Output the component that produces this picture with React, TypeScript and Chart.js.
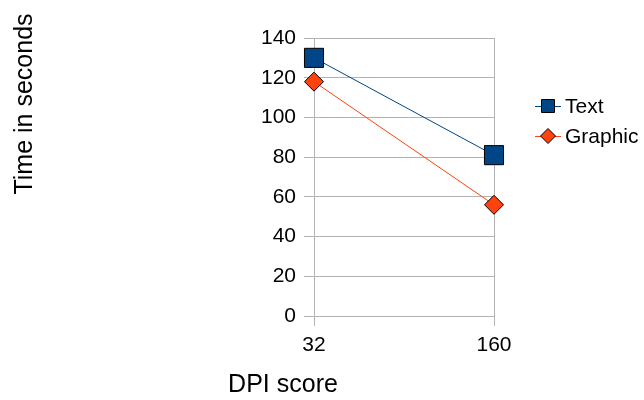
import React, { useEffect, useRef } from "react";
import { Chart, registerables } from "chart.js";

Chart.register(...registerables);

const categories = ["32", "160"];
const textValues = [130, 81];
const graphicValues = [118, 56];
const yTicks = [0, 20, 40, 60, 80, 100, 120, 140];
const seriesNames = ["Text", "Graphic"];
const yTitle = "Time in seconds";
const xTitle = "DPI score";

const FONT = "'Liberation Sans', Arial, sans-serif";
const GRID = "#b3b3b3";
const TICK_SIZE = 21;

const extrasPlugin = {
  id: "extras",
  afterDraw(chart: any) {
    const ctx = chart.ctx;
    ctx.save();
    ctx.fillStyle = "#000";
    ctx.font = `25px ${FONT}`;
    // axis titles
    ctx.textAlign = "center";
    ctx.textBaseline = "middle";
    ctx.fillText(xTitle, 283, 385);
    ctx.save();
    ctx.translate(25, 104);
    ctx.rotate(-Math.PI / 2);
    ctx.fillText(yTitle, 0, 0);
    ctx.restore();
    // legend
    ctx.font = `${TICK_SIZE}px ${FONT}`;
    const ds = chart.data.datasets;
    const lx = 548;
    const ys = [106, 136];
    ds.forEach((d: any, i: number) => {
      const y = ys[i];
      ctx.strokeStyle = d.borderColor;
      ctx.lineWidth = 1;
      ctx.beginPath();
      ctx.moveTo(lx - 13, y + 0.5);
      ctx.lineTo(lx + 13, y + 0.5);
      ctx.stroke();
      ctx.fillStyle = d.backgroundColor;
      ctx.strokeStyle = "#000";
      ctx.beginPath();
      if (d.pointStyle === "rect") {
        ctx.rect(lx - 6.5, y - 6.5, 13, 13);
      } else {
        ctx.moveTo(lx - 7.5, y);
        ctx.lineTo(lx, y - 7.5);
        ctx.lineTo(lx + 7.5, y);
        ctx.lineTo(lx, y + 7.5);
        ctx.closePath();
      }
      ctx.fill();
      ctx.stroke();
      ctx.fillStyle = "#000";
      ctx.textAlign = "left";
      ctx.fillText(d.label, lx + 17, y + 1);
    });
    ctx.restore();
  },
};

export default function App() {
  const ref = useRef<HTMLCanvasElement>(null);
  useEffect(() => {
    document.body.style.margin = "0";
    const chart = new Chart(ref.current!, {
      type: "line",
      data: {
        labels: categories,
        datasets: [
          {
            label: seriesNames[0],
            data: textValues,
            borderColor: "#004586",
            backgroundColor: "#004586",
            pointBackgroundColor: "#004586",
            pointBorderColor: "#000",
            pointBorderWidth: 1,
            pointStyle: "rect",
            pointRadius: 13.5,
            borderWidth: 1,
          },
          {
            label: seriesNames[1],
            data: graphicValues,
            borderColor: "#ff420e",
            backgroundColor: "#ff420e",
            pointBackgroundColor: "#ff420e",
            pointBorderColor: "#000",
            pointBorderWidth: 1,
            pointStyle: "rectRot",
            pointRadius: 9.5,
            borderWidth: 1,
          },
        ],
      },
      options: {
        animation: false,
        responsive: false,
        layout: { padding: { left: 0, right: 150, top: 38, bottom: 0 } },
        plugins: { legend: { display: false }, tooltip: { enabled: false } },
        scales: {
          x: {
            offset: false,
            grid: { color: GRID, tickLength: 10, offset: false },
            border: { color: GRID },
            ticks: { color: "#000", font: { family: FONT, size: TICK_SIZE }, padding: 7 },
            afterFit: (s: any) => {
              s.height = 84;
            },
          },
          y: {
            min: 0,
            max: 140,
            afterBuildTicks: (s: any) => {
              s.ticks = yTicks.map((v) => ({ value: v }));
            },
            grid: { color: GRID, tickLength: 10 },
            border: { color: GRID },
            ticks: { color: "#000", font: { family: FONT, size: TICK_SIZE }, padding: 8 },
            afterFit: (s: any) => {
              s.width = 314;
            },
          },
        },
      },
      plugins: [extrasPlugin],
    });
    return () => chart.destroy();
  }, []);
  return (
    <div style={{ width: 644, height: 400 }}>
      <canvas ref={ref} width={644} height={400} style={{ display: "block" }} />
    </div>
  );
}
